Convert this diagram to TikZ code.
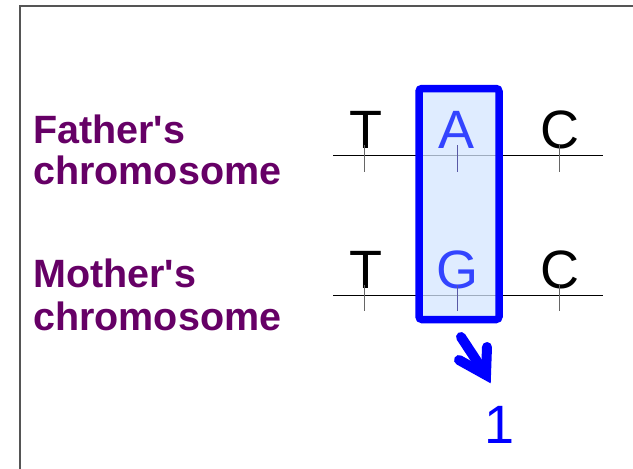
\documentclass[tikz,border=0pt]{standalone}
\usepackage{fontspec}
\setmainfont{Liberation Sans}
\definecolor{lab}{HTML}{660066}
\definecolor{hl}{HTML}{0000FF}
\definecolor{hlfill}{HTML}{D4E6FF}
\definecolor{hltext}{HTML}{3344FF}
\definecolor{frame}{HTML}{555555}
\begin{document}
\begin{tikzpicture}[x=1pt,y=-1pt,
  label/.style={text=lab,font=\fontsize{39.5}{40}\selectfont\bfseries,anchor=base west,inner sep=0pt},
  base/.style={font=\fontsize{54}{55}\selectfont,anchor=base,inner sep=0pt},
  strand/.style={draw=black,line width=1pt},
  tick/.style={draw=gray!80!black,line width=1pt}]
\useasboundingbox (0,0) rectangle (633,469);
% frame
\draw[frame,line width=1.5pt] (633,6) -- (20,6) -- (20,469);
% labels
\node[label] (fa1) at (33,143) {Father\textquotesingle s};
\node[label] (fa2) at (33,184) {chromosome};
\node[label] (mo1) at (33,287) {Mother\textquotesingle s};
\node[label] (mo2) at (33,330) {chromosome};
% strands
\coordinate (s1a) at (333,155.5); \coordinate (s1b) at (603,155.5);
\coordinate (s2a) at (333,295.5); \coordinate (s2b) at (603,295.5);
\draw[strand] (s1a) -- (s1b);
\draw[strand] (s2a) -- (s2b);
% bases
\node[base] (t1) at (366,148) {T};
\node[base] (c1) at (560,148) {C};
\node[base] (t2) at (366,288) {T};
\node[base] (c2) at (560,288) {C};
\foreach \x in {364,559}{
  \draw[tick] (\x,145) -- (\x,172);
  \draw[tick] (\x,285) -- (\x,311);
}
\draw[tick] (457,145) -- (457,172);
\draw[tick] (457,285) -- (457,311);
% highlight box
\node[draw=hl,line width=7.5pt,fill=hlfill,fill opacity=0.75,rounded corners=3pt,
  minimum width=80pt,minimum height=231pt,inner sep=0pt] (box) at (459,204) {};
\node[base,text=hltext] (a1) at (457,148) {A};
\node[base,text=hltext] (g2) at (457,288) {G};
\draw[draw=gray!70!blue,line width=1pt] (457,145) -- (457,172);
\draw[draw=gray!70!blue,line width=1pt] (457,285) -- (457,311);
% arrow
\coordinate (ar0) at (461,337);
\coordinate (ar1) at (486,375);
\coordinate (ar2) at (487,347);
\coordinate (ar3) at (459,360);
\draw[hl,line width=10pt,line cap=round] (ar0) -- (ar1);
\draw[hl,line width=10pt,line cap=round,line join=miter] (ar2) -- (ar1) -- (ar3);
\node[base,text=hl] (one) at (500,443) {1};
\end{tikzpicture}
\end{document}
